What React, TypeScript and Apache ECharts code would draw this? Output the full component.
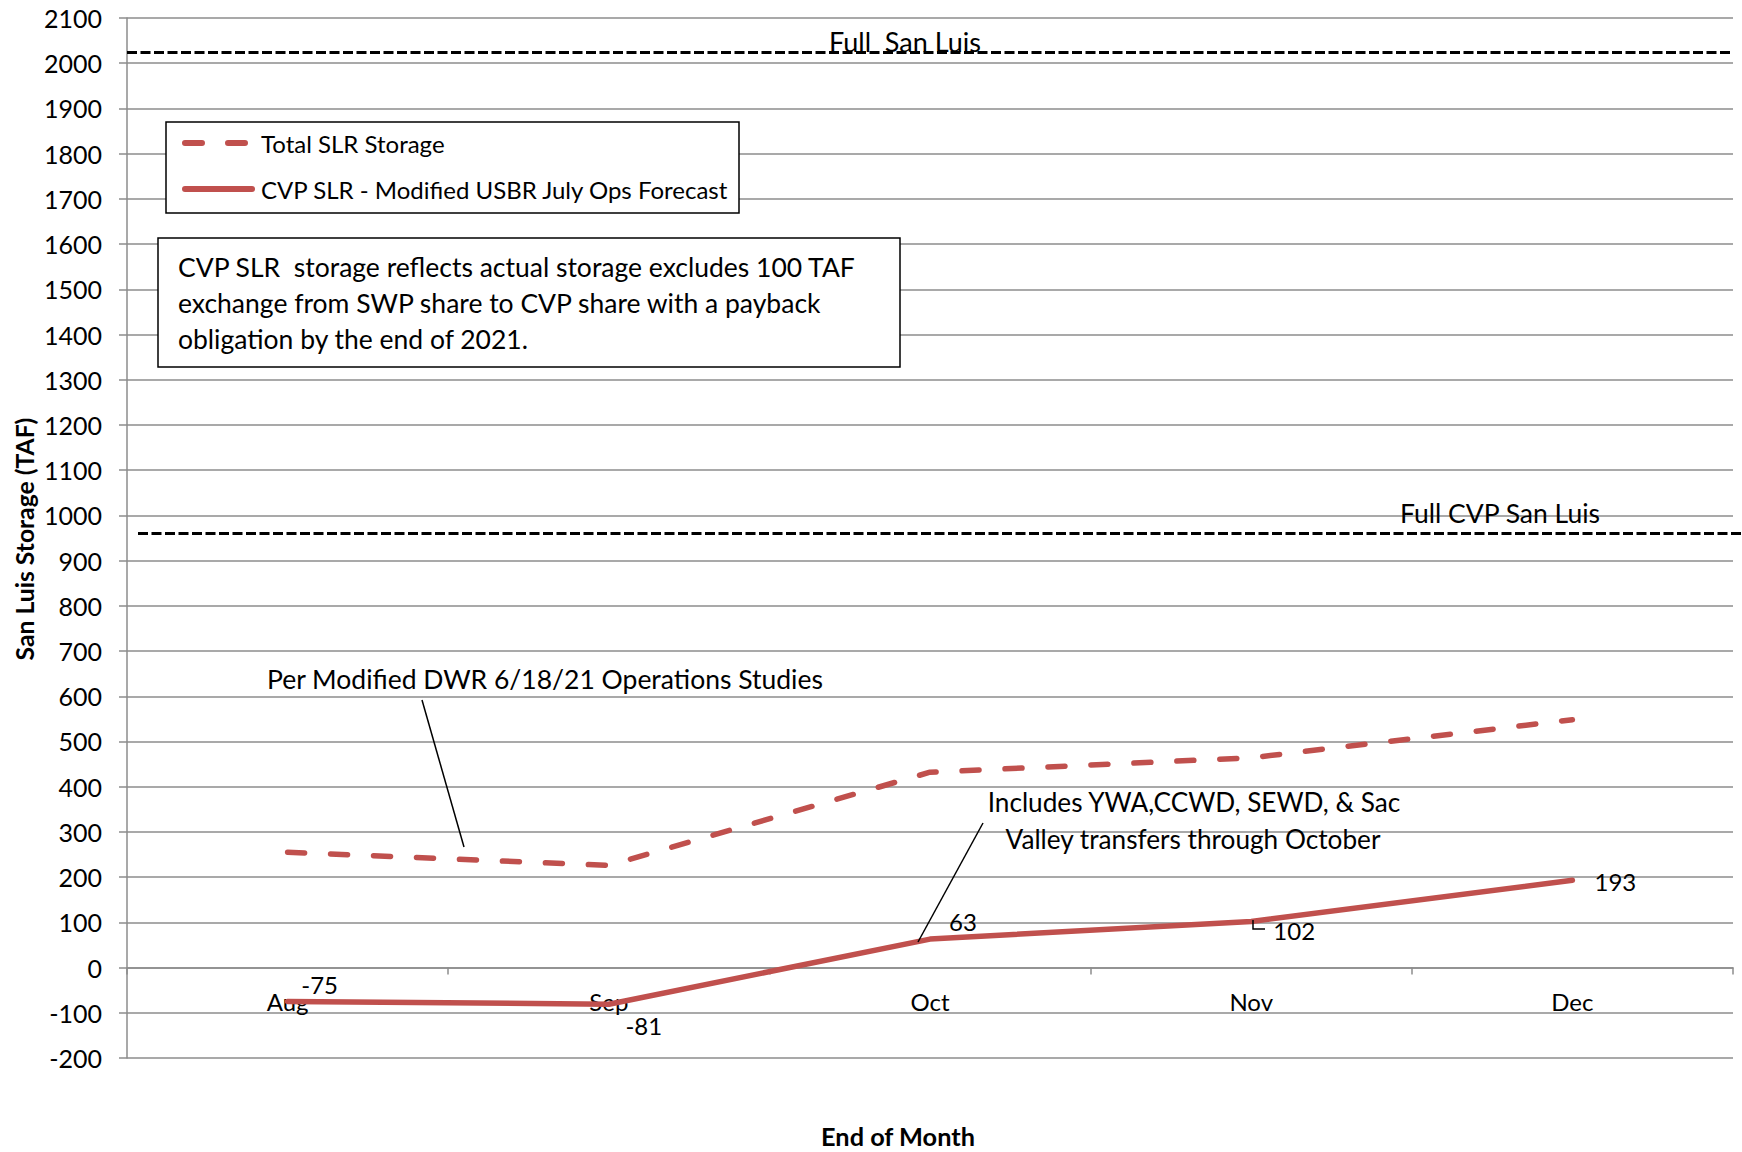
import React, { useEffect, useRef } from "react";
import * as echarts from "echarts";

const categories = ["Aug", "Sep", "Oct", "Nov", "Dec"];
const totalSLR = [255, 226, 432, 464, 548];
const cvpSLR = [-75, -81, 63, 102, 193];
const fullSanLuis = 2025;
const fullCVP = 960;
const yMin = -200;
const yMax = 2100;
const yStep = 100;

const seriesNames = ["Total SLR Storage", "CVP SLR - Modified USBR July Ops Forecast"];
const noteLines = [
  "CVP SLR  storage reflects actual storage excludes 100 TAF",
  "exchange from SWP share to CVP share with a payback",
  "obligation by the end of 2021.",
];
const dwrNote = "Per Modified DWR 6/18/21 Operations Studies";
const transferNote = ["Includes YWA,CCWD, SEWD, & Sac", "Valley transfers through October"];

const cvpLabelOffsets = [
  [32, -17],
  [35, 21],
  [33, -18],
  [43, 9],
  [43, 1],
];

const FONT = "Lato, 'Open Sans', sans-serif";
const RED = "#C0504D";
const GRID = "#8c8c8c";

export default function App() {
  const ref = useRef<HTMLDivElement>(null);

  useEffect(() => {
    document.body.style.margin = "0";
    const chart = echarts.init(ref.current!, undefined, { renderer: "svg" });

    const txt = (text: string, x: number, y: number, opts: any = {}) => ({
      type: "text",
      x,
      y,
      z: 100,
      style: {
        text,
        fill: "#000",
        fontFamily: FONT,
        fontSize: 26.5,
        align: "left",
        verticalAlign: "middle",
        ...opts,
      },
    });

    const option: any = {
      animation: false,
      backgroundColor: "#fff",
      textStyle: { fontFamily: FONT },
      grid: { left: 127, right: 9, top: 18, bottom: 94, containLabel: false },
      xAxis: {
        type: "category",
        data: categories,
        boundaryGap: true,
        axisLine: { show: true, onZero: false, lineStyle: { color: GRID, width: 1.5 } },
        axisTick: { show: true, length: 7, inside: false, alignWithLabel: false, lineStyle: { color: GRID, width: 1.5 } },
        axisLabel: { color: "#000", fontSize: 24, fontFamily: FONT, margin: 22 },
        splitLine: { show: false },
      },
      yAxis: {
        type: "value",
        min: yMin,
        max: yMax,
        interval: yStep,
        axisLine: { show: true, lineStyle: { color: GRID, width: 1.5 } },
        axisTick: { show: true, length: 8, lineStyle: { color: GRID, width: 1.5 } },
        axisLabel: {
          color: "#000",
          fontSize: 25,
          fontFamily: FONT,
          margin: 25,
          formatter: (v: number) => String(v),
        },
        splitLine: { show: true, lineStyle: { color: GRID, width: 1.5 } },
      },
      series: [
        {
          name: seriesNames[0],
          type: "line",
          data: totalSLR,
          symbol: "none",
          lineStyle: { color: RED, width: 5.5, type: [17, 26], cap: "round" },
          z: 3,
          silent: true,
          markLine: {
            silent: true,
            symbol: ["none", "none"],
            label: { show: false },
            lineStyle: { color: "#000", width: 3, type: [10, 3.5] },
            data: [{ yAxis: fullSanLuis }],
          },
        },
        {
          name: seriesNames[1],
          type: "line",
          data: cvpSLR.map((v, i) => ({
            value: v,
            label: { offset: cvpLabelOffsets[i] },
          })),
          symbol: "circle",
          symbolSize: 2,
          showSymbol: true,
          itemStyle: { color: "rgba(0,0,0,0)" },
          lineStyle: { color: RED, width: 5.5, cap: "round", join: "round" },
          label: {
            show: true,
            position: "inside",
            color: "#000",
            fontSize: 24,
            fontFamily: FONT,
            align: "center",
            verticalAlign: "middle",
          },
          z: 4,
          silent: true,
        },
      ],
    };

    chart.setOption(option);

    // Place the category axis on the zero line (labels included)
    const y0 = chart.convertToPixel({ yAxisIndex: 0 }, 0) as number;
    const yBottom = chart.convertToPixel({ yAxisIndex: 0 }, yMin) as number;
    chart.setOption({ xAxis: { offset: y0 - yBottom } });

    const yCVP = chart.convertToPixel({ yAxisIndex: 0 }, fullCVP) as number;

    const graphic: any[] = [
      // Full CVP San Luis dashed line
      {
        type: "line",
        z: 50,
        shape: { x1: 138, y1: yCVP, x2: 1742, y2: yCVP },
        style: { stroke: "#000", lineWidth: 3, lineDash: [10, 3.5] },
      },
      txt("Full  San Luis", 905, 41, { align: "center", fontSize: 27 }),
      txt("Full CVP San Luis", 1500, 513, { align: "center", fontSize: 26.5 }),
      // legend box
      {
        type: "rect",
        z: 90,
        shape: { x: 166, y: 122, width: 573, height: 91 },
        style: { fill: "#fff", stroke: "#000", lineWidth: 1.5 },
      },
      {
        type: "line",
        z: 95,
        shape: { x1: 185, y1: 143, x2: 248, y2: 143 },
        style: { stroke: RED, lineWidth: 6, lineDash: [17, 26], lineCap: "round" },
      },
      {
        type: "line",
        z: 95,
        shape: { x1: 185, y1: 189, x2: 252, y2: 189 },
        style: { stroke: RED, lineWidth: 6, lineCap: "round" },
      },
      txt(seriesNames[0], 261, 143, { fontSize: 24 }),
      txt(seriesNames[1], 261, 189, { fontSize: 24 }),
      // note box
      {
        type: "rect",
        z: 90,
        shape: { x: 158, y: 238, width: 742, height: 129 },
        style: { fill: "#fff", stroke: "#000", lineWidth: 1.5 },
      },
      ...noteLines.map((l, i) => txt(l, 178, 267 + i * 36)),
      // DWR note + leader
      txt(dwrNote, 267, 679),
      {
        type: "line",
        z: 60,
        shape: { x1: 422, y1: 700, x2: 464, y2: 847 },
        style: { stroke: "#000", lineWidth: 1.5 },
      },
      // transfers note + leader
      txt(transferNote[0], 1194, 802, { align: "center", fontSize: 26.2 }),
      txt(transferNote[1], 1193, 839, { align: "center", fontSize: 26.2 }),
      {
        type: "line",
        z: 60,
        shape: { x1: 983, y1: 823, x2: 918, y2: 942 },
        style: { stroke: "#000", lineWidth: 1.5 },
      },
      // small leader for 102 label
      {
        type: "polyline",
        z: 60,
        shape: { points: [[1253, 920], [1253, 929], [1265, 929]] },
        style: { stroke: "#000", lineWidth: 1.5, fill: "none" },
      },
      // axis titles
      txt("End of Month", 898, 1136, {
        align: "center",
        fontWeight: "bold",
        fontSize: 25.3,
        lineHeight: 26,
      }),
      {
        type: "text",
        x: 24,
        y: 539,
        rotation: Math.PI / 2,
        z: 100,
        style: {
          text: "San Luis Storage (TAF)",
          fill: "#000",
          fontFamily: FONT,
          fontSize: 24.7,
          fontWeight: "bold",
          align: "center",
          verticalAlign: "middle",
        },
      },
    ];

    chart.setOption({ graphic });

    return () => chart.dispose();
  }, []);

  return <div ref={ref} style={{ width: 1742, height: 1152 }} />;
}
